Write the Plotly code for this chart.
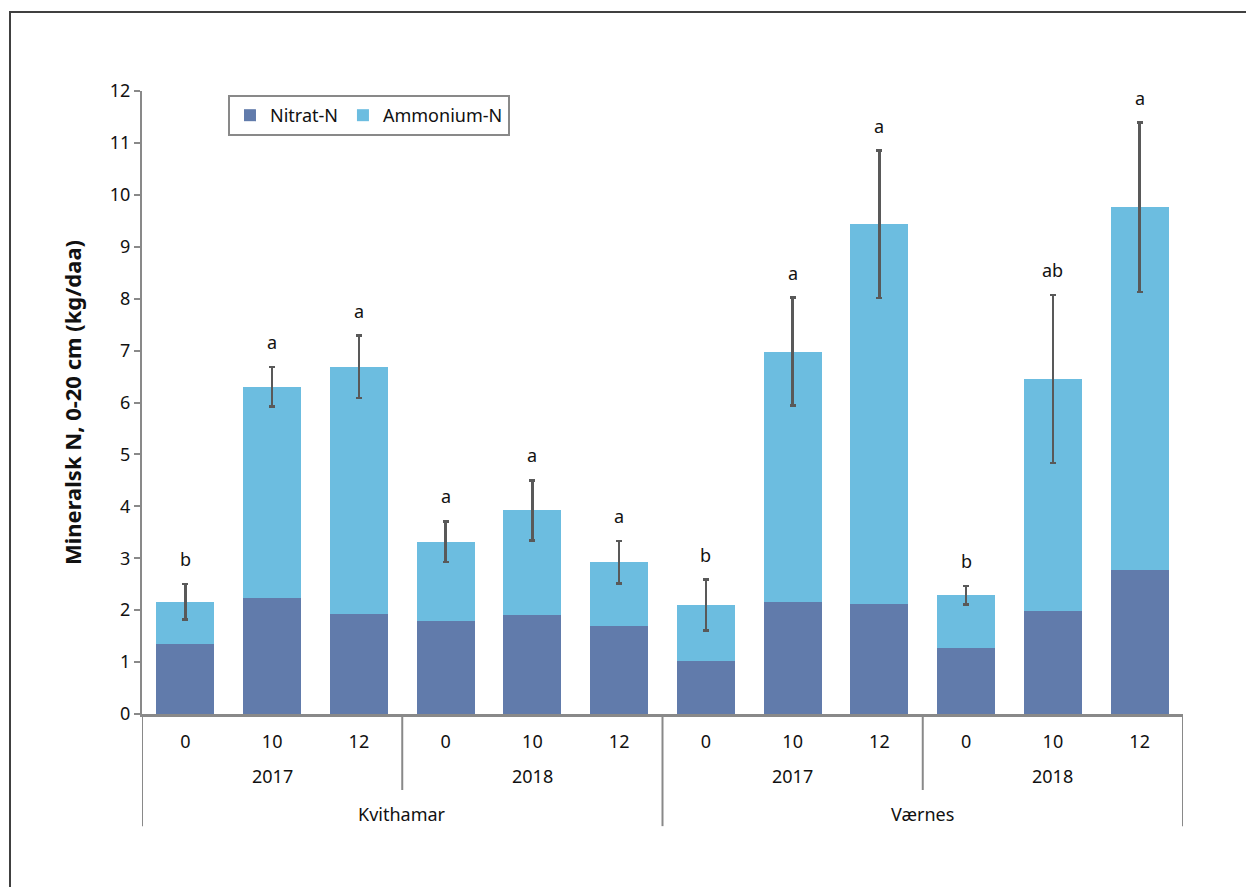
import plotly.graph_objects as go

# ---- data ----
sites = ["Kvithamar"] * 6 + ["Værnes"] * 6
years = ["2017", "2017", "2017", "2018", "2018", "2018"] * 2
treatments = ["0", "10", "12"] * 4
nitrat = [1.35, 2.23, 1.92, 1.80, 1.90, 1.69, 1.03, 2.15, 2.12, 1.27, 1.99, 2.77]
totals = [2.16, 6.30, 6.69, 3.32, 3.92, 2.92, 2.10, 6.98, 9.43, 2.29, 6.45, 9.76]
errors = [0.34, 0.38, 0.60, 0.39, 0.58, 0.41, 0.49, 1.04, 1.42, 0.18, 1.62, 1.63]
letters = ["b", "a", "a", "a", "a", "a", "b", "a", "a", "b", "ab", "a"]
ammonium = [round(t - n, 2) for t, n in zip(totals, nitrat)]

cats = [f"{s} {y} {t}" for s, y, t in zip(sites, years, treatments)]

FONT = "Noto Sans"
GRAY = "#898989"
TXT = "#111111"

fig = go.Figure()
fig.add_trace(go.Bar(x=cats, y=nitrat, name="Nitrat-N", marker_color="#617BAB",
                     marker_line_width=0))
fig.add_trace(go.Bar(x=cats, y=ammonium, name="Ammonium-N", marker_color="#6CBDE0",
                     marker_line_width=0,
                     error_y=dict(type="data", array=errors, visible=True,
                                  color="#595959", thickness=2.5, width=3)))

# significance letters
for c, t, e, l in zip(cats, totals, errors, letters):
    fig.add_annotation(x=c, y=t + e, text=l, showarrow=False, xref="x", yref="y",
                       yanchor="bottom", yshift=11, font=dict(size=18, color=TXT))

# group labels
groups_year = [(1, "2017"), (4, "2018"), (7, "2017"), (10, "2018")]
for xi, lab in groups_year:
    fig.add_annotation(x=xi, y=-0.0995, xref="x", yref="paper", text=lab, showarrow=False,
                       yanchor="middle", font=dict(size=18, color=TXT))
groups_site = [(2.5, "Kvithamar"), (8.5, "Værnes")]
for xi, lab in groups_site:
    fig.add_annotation(x=xi, y=-0.1605, xref="x", yref="paper", text=lab, showarrow=False,
                       yanchor="middle", font=dict(size=18, color=TXT))

# dividers
for xv in [2.5, 8.5]:
    fig.add_shape(type="line", xref="x", yref="paper", x0=xv, x1=xv, y0=0, y1=-0.122,
                  line=dict(color=GRAY, width=2))
for xv in [-0.5, 5.5, 11.5]:
    fig.add_shape(type="line", xref="x", yref="paper", x0=xv, x1=xv, y0=0, y1=-0.18,
                  line=dict(color=GRAY, width=2))

# outer frame
fig.add_shape(type="rect", xref="paper", yref="paper", x0=-0.1268, x1=1.08, y0=-0.31, y1=1.1268,
              line=dict(color="#404040", width=2), layer="below")

fig.update_layout(
    width=1246, height=887,
    margin=dict(l=142, r=63, t=91, b=173),
    paper_bgcolor="white", plot_bgcolor="white",
    barmode="stack", bargap=0.33,
    font=dict(family=FONT, size=18, color=TXT),
    legend=dict(orientation="h", x=0.0826, y=0.9936, xanchor="left", yanchor="top",
                bordercolor=GRAY, borderwidth=2, font=dict(size=18),
                traceorder="normal", itemwidth=30, tracegroupgap=0),
    xaxis=dict(type="category", showline=True, linecolor=GRAY, linewidth=3,
               tickmode="array", tickvals=cats, ticktext=treatments,
               ticks="outside", ticklen=9, tickcolor="rgba(0,0,0,0)",
               showgrid=False, zeroline=False, tickfont=dict(size=18),
               range=[-0.5, 11.5]),
    yaxis=dict(range=[0, 12], dtick=1, showline=True, linecolor=GRAY, linewidth=2,
               ticks="outside", ticklen=6, tickcolor=GRAY, tickwidth=2,
               showgrid=False, zeroline=False, tickfont=dict(size=18),
               title=dict(text="<b>Mineralsk N, 0-20 cm (kg/daa)</b>", font=dict(size=22),
                          standoff=22)),
)

fig.write_html("out.html")
